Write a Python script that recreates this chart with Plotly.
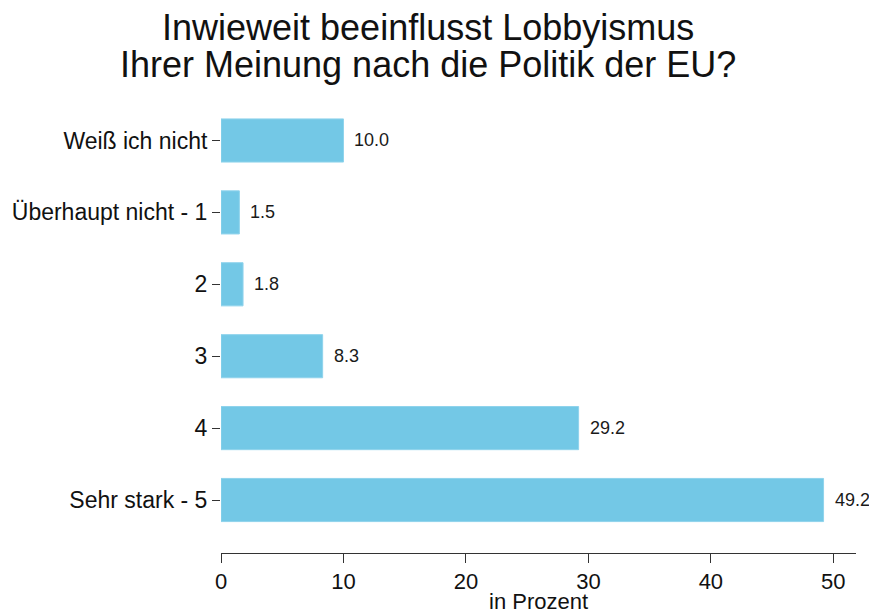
import plotly.graph_objects as go

categories = ["Sehr stark - 5", "4", "3", "2", "Überhaupt nicht - 1", "Weiß ich nicht"]
values = [49.2, 29.2, 8.3, 1.8, 1.5, 10.0]
x_ticks = [0, 10, 20, 30, 40, 50]

title_lines = ["Inwieweit beeinflusst Lobbyismus", "Ihrer Meinung nach die Politik der EU?"]
x_title = "in Prozent"

FONT = "Liberation Sans, Arial, sans-serif"

fig = go.Figure()
fig.add_trace(go.Bar(
    x=values, y=categories, orientation="h",
    marker=dict(color="#73C8E6", line=dict(color="#8FD3EC", width=1)),
    width=0.6, hoverinfo="x+y",
))
for i, v in enumerate(values):
    fig.add_annotation(x=v, y=i, xref="x", yref="y", text=f"{v:.1f}", showarrow=False,
                       xanchor="left", xshift=9, font=dict(size=18, color="#1a1a1a"))

# title lines (centred around x = 428 px)
for j, line in enumerate(title_lines):
    fig.add_annotation(x=0.326, xref="paper", xanchor="center", y=1.0, yref="paper",
                       yanchor="middle", yshift=100 - 27 - j * 37, text=line, showarrow=False,
                       font=dict(size=36, color="#111", family=FONT))

# x axis title
fig.add_annotation(x=0.5, xref="paper", xanchor="center", y=0, yref="paper", yanchor="middle",
                   yshift=-48, text=x_title, showarrow=False,
                   font=dict(size=22, color="#111", family=FONT))

fig.update_layout(
    width=869, height=614,
    paper_bgcolor="white", plot_bgcolor="white",
    font=dict(family=FONT, color="#111"),
    margin=dict(l=221, r=13, t=100, b=61, autoexpand=False),
    showlegend=False,
    bargap=0.4,
)
fig.update_xaxes(
    range=[0, 51.85], tickvals=x_ticks, ticks="outside", ticklen=9, tickcolor="#333",
    showline=True, linecolor="#333", linewidth=1, showgrid=False, zeroline=False,
    tickfont=dict(size=22), automargin=False,
)
fig.update_yaxes(
    type="category", categoryorder="array", categoryarray=categories,
    range=[-0.737, 5.563], ticks="outside", ticklen=8, tickcolor="#333", automargin=False,
    showline=False, showgrid=False, zeroline=False, tickfont=dict(size=23),
)

fig.write_html("out.html", config={"displayModeBar": False},
               post_script="document.body.style.margin='0';")
